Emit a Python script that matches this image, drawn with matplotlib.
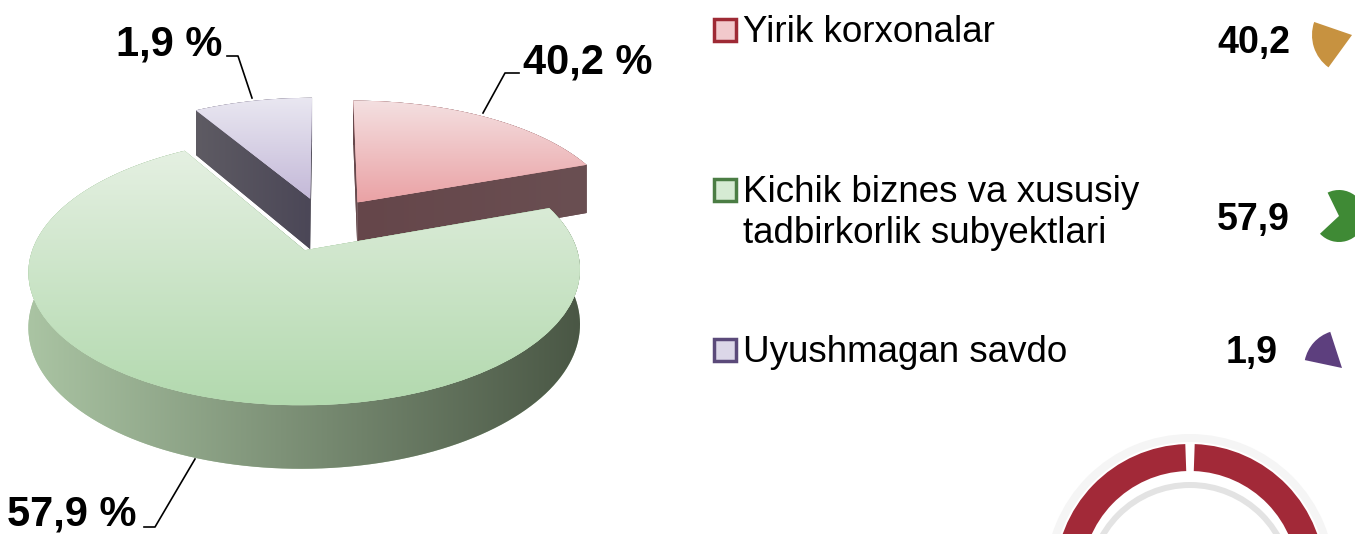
import numpy as np
import matplotlib
matplotlib.use("Agg")
import matplotlib.pyplot as plt
import matplotlib.colors as mcolors
from matplotlib.patches import Polygon, Rectangle, Wedge
from matplotlib.transforms import Transform

categories = ["Yirik korxonalar",
              "Kichik biznes va xususiy\ntadbirkorlik subyektlari",
              "Uyushmagan savdo"]
shares = [40.2, 57.9, 1.9]
# the wedges on the source slide are not drawn to the labelled shares,
# these are the sizes as they appear in the picture
drawn_shares = [19.5, 72.0, 8.5]

top_colors = [("#f4e0e1", "#eaa2a5"), ("#e5f0e2", "#b2d9ae"), ("#e9e7f1", "#c4b9d8")]
wall_colors = [("#65464a", "#6a4f52"), ("#aac4a3", "#4a5745"), ("#5e5b63", "#4b4757")]
legend_fill = ["#f2c9cc", "#d6ebd3", "#dcd7e8"]
legend_edge = ["#9e2a35", "#4b7d44", "#5b4a7a"]
icon_colors = ["#c79240", "#3f8a35", "#5d3f7e"]

FONT = "Liberation Sans"

# projection of the unit pie onto the slide (pixel coords, y down)
CX, CY, A, B, K = 325, 224, 123, 264, 0.15
DEPTH = 52


def tilt(x, y):
    x = np.asarray(x, float)
    y = np.asarray(y, float)
    d = 1 + K * y
    return CX + B * x / d, CY - A * y / d


class Tilt(Transform):
    input_dims = output_dims = 2

    def transform_non_affine(self, values):
        v = np.asarray(values, float)
        x, y = tilt(v[:, 0], v[:, 1])
        return np.column_stack([x, y])


fig = plt.figure(figsize=(13.55, 5.34), dpi=100)
ax = fig.add_axes([0, 0, 1, 1])


def shade(patch, c0, c1, box, z, vertical=True):
    rgb = np.array([mcolors.to_rgb(c0), mcolors.to_rgb(c1)])
    s = np.linspace(0, 1, 256)[:, None]
    ramp = rgb[0] * (1 - s) + rgb[1] * s
    img = ramp[:, None, :] if vertical else ramp[None, :, :]
    x0, x1, y0, y1 = box
    im = ax.imshow(img, extent=(x0, x1, y1, y0), origin="upper",
                   aspect="auto", zorder=z, interpolation="bilinear")
    im.set_clip_path(patch)


def add_poly(pts, c0, c1, z):
    pts = np.asarray(pts)
    p = Polygon(pts, closed=True, facecolor=c0, edgecolor="none", zorder=z)
    ax.add_patch(p)
    shade(p, c0, c1, (pts[:, 0].min(), pts[:, 0].max(),
                      pts[:, 1].min(), pts[:, 1].max()), z + 0.05, vertical=False)


wedges, _ = ax.pie(drawn_shares, startangle=90, counterclock=False,
                   explode=[0.22] * 3, radius=1,
                   wedgeprops=dict(linewidth=0))

# farther wedges first
depth_rank = np.argsort([-w.center[1] for w in wedges])
for rank, i in enumerate(depth_rank):
    w = wedges[i]
    zb = 2 + 2 * rank
    cx, cy = w.center
    t = np.radians(np.linspace(w.theta1, w.theta2, 150))
    ux, uy = cx + w.r * np.cos(t), cy + w.r * np.sin(t)

    # outer side wall
    sx, sy = tilt(ux, uy)
    sb = sy + DEPTH / (1 + K * uy)
    wall = np.r_[np.column_stack([sx, sy]), np.column_stack([sx, sb])[::-1]]
    add_poly(wall, wall_colors[i][0], wall_colors[i][1], zb)

    # cut faces
    for a in (w.theta1, w.theta2):
        ex, ey = cx + np.cos(np.radians(a)), cy + np.sin(np.radians(a))
        px, py = tilt([cx, ex], [cy, ey])
        dd = DEPTH / (1 + K * np.array([cy, ey]))
        face = [(px[0], py[0]), (px[1], py[1]),
                (px[1], py[1] + dd[1]), (px[0], py[0] + dd[0])]
        add_poly(face, wall_colors[i][0], wall_colors[i][1], zb)

    # top face
    w.set_transform(Tilt() + ax.transData)
    w.set_facecolor(top_colors[i][1])
    w.set_zorder(zb + 1)
    bx, by = tilt(np.r_[cx, ux], np.r_[cy, uy])
    shade(w, top_colors[i][0], top_colors[i][1],
          (bx.min(), bx.max(), by.min(), by.max()), zb + 1.05)

# percentage labels with leaders
lab = [f"{v:.1f}".replace(".", ",") for v in shares]
ax.text(523, 74, lab[0] + " %", fontsize=30, fontweight="bold", family=FONT,
        ha="left", va="baseline", zorder=20)
ax.plot([519, 505, 483], [73, 73, 113], color="black", lw=1.2, zorder=20)
ax.text(7, 526, lab[1] + " %", fontsize=30, fontweight="bold", family=FONT,
        ha="left", va="baseline", zorder=20)
ax.plot([144, 155, 195], [527, 527, 459], color="black", lw=1.2, zorder=20)
ax.text(222, 55, lab[2] + " %", fontsize=30, fontweight="bold", family=FONT,
        ha="right", va="baseline", zorder=20)
ax.plot([227, 238, 252], [56, 56, 98], color="black", lw=1.2, zorder=20)

# legend on the right
row_base = [42, 202, 362]
for i, name in enumerate(categories):
    ax.add_patch(Rectangle((714, row_base[i] - 23), 22, 22,
                           facecolor=legend_fill[i], edgecolor=legend_edge[i],
                           lw=2.5, zorder=10))
    for j, line in enumerate(name.split("\n")):
        ax.text(743, row_base[i] + 41 * j, line, fontsize=26.5, family=FONT,
                ha="left", va="baseline", zorder=10)

val_x = [1290, 1290, 1278]
val_y = [53, 230, 363]
for i in range(3):
    ax.text(val_x[i], val_y[i], lab[i], fontsize=27, fontweight="bold",
            family=FONT, ha="right", va="baseline", zorder=10)

# little decorative wedges next to the values
ax.add_patch(Wedge((1352, 35), 40, 126, 199, facecolor=icon_colors[0],
                   edgecolor="none", zorder=10))
ax.add_patch(Wedge((1339, 216), 26, -116, 137, facecolor=icon_colors[1],
                   edgecolor="none", zorder=10))
ax.add_patch(Wedge((1342, 368), 38, -168, -108, facecolor=icon_colors[2],
                   edgecolor="none", zorder=10))

# ring at the bottom right
ax.add_patch(Wedge((1190, 579), 145, 0, 360, width=8, facecolor="#f5f5f5",
                   edgecolor="none", zorder=9))
for a0, a1 in [(-88, 88), (92, 268)]:
    ax.add_patch(Wedge((1190, 579), 135, a0, a1, width=27,
                       facecolor="#a22938", edgecolor="none", zorder=10))
ax.add_patch(Wedge((1190, 586), 104, 180, 360, width=6, facecolor="#e3e3e3",
                   edgecolor="none", zorder=9))

ax.set_aspect("auto")
ax.set_xlim(0, 1355)
ax.set_ylim(534, 0)
ax.axis("off")
fig.savefig("out.png", dpi=100)
